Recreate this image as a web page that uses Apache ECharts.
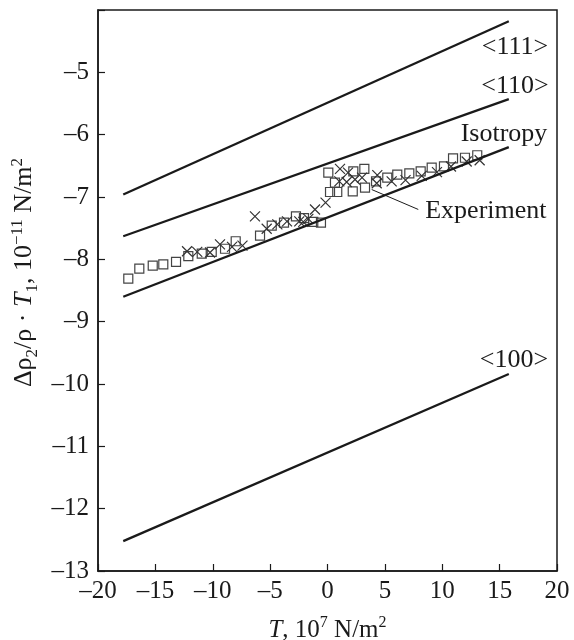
<!DOCTYPE html>
<html>
<head>
<meta charset="utf-8">
<script src="https://cdn.jsdelivr.net/npm/echarts@6/dist/echarts.min.js"></script>
<style>
    html, body { margin: 0; padding: 0; background: #fff; }
    #chart { width: 574px; height: 640px; }
</style>
</head>
<body>
<div id="chart"></div>
<script>
// theory lines (ends only)
const lineX = [-17.8, 15.8];
const line111 = [-6.96, -4.18];
const line110 = [-7.63, -5.43];
const lineIso = [-8.60, -6.20];
const line100 = [-12.52, -9.84];

// experiment, squares
const sqX = [-17.36, -16.40, -15.23, -14.31, -13.20, -12.13, -10.96, -10.09, -8.93, -8.00,
    -5.88, -4.86, -3.79, -2.75, -2.05, -1.24, -0.57, 0.07, 0.65, 0.22,
    0.85, 2.25, 3.21, 2.20, 3.27, 4.23, 5.21, 6.08, 7.13, 8.12,
    9.08, 10.15, 10.94, 11.98, 13.05];
const sqY = [-8.31, -8.15, -8.10, -8.08, -8.04, -7.95, -7.91, -7.88, -7.83, -7.71,
    -7.62, -7.46, -7.41, -7.31, -7.34, -7.40, -7.41, -6.61, -6.77, -6.92,
    -6.92, -6.59, -6.55, -6.91, -6.85, -6.75, -6.69, -6.64, -6.62, -6.59,
    -6.53, -6.51, -6.38, -6.37, -6.33];

// experiment, crosses
const crX = [-12.24, -11.35, -10.24, -9.37, -8.32, -7.41, -6.32, -5.30, -4.37, -3.53,
    -2.46, -2.11, -1.67, -1.09, -0.17, 1.09, 1.79, 1.03, 1.67, 2.40,
    3.01, 4.34, 4.29, 5.59, 6.80, 8.21, 9.54, 10.76, 12.13, 13.26];
const crY = [-7.87, -7.88, -7.89, -7.76, -7.80, -7.78, -7.31, -7.51, -7.44, -7.39,
    -7.39, -7.40, -7.35, -7.20, -7.09, -6.55, -6.61, -6.75, -6.76, -6.72,
    -6.69, -6.65, -6.78, -6.75, -6.73, -6.66, -6.60, -6.51, -6.43, -6.41];

const xTicks = [-20, -15, -10, -5, 0, 5, 10, 15, 20];
const yTicks = [-13, -12, -11, -10, -9, -8, -7, -6, -5];

const font = '"Liberation Serif", "DejaVu Serif", serif';
const ink = '#1a1a1a';

function pairs(xs, ys) {
    return xs.map((x, i) => [x, ys[i]]);
}
function minus(v) {
    return String(v).replace('-', '\u2013');
}

const chart = echarts.init(document.getElementById('chart'));

function theory(ys) {
    return {
        type: 'line',
        data: pairs(lineX, ys),
        symbol: 'none',
        lineStyle: { color: ink, width: 2.3 },
        silent: true
    };
}

const option = {
    animation: false,
    grid: {
        left: 98, right: 17, top: 10, bottom: 69,
        outerBoundsMode: 'none',
        containLabel: false,
        show: true,
        borderColor: ink,
        borderWidth: 1.5
    },
    xAxis: {
        type: 'value',
        min: -20, max: 20, interval: 5,
        axisLine: { onZero: false, lineStyle: { color: ink, width: 1.5 } },
        axisTick: { inside: true, length: 7, lineStyle: { color: ink, width: 1.2 } },
        splitLine: { show: false },
        axisLabel: {
            color: ink, fontFamily: font, fontSize: 25, margin: 8,
            formatter: v => xTicks.includes(v) ? minus(v) : ''
        },
        name: '{i|T}{a|, 10}{p|7}{a| N/m}{p|2}',
        nameLocation: 'middle',
        nameGap: 44,
        nameTextStyle: {
            rich: {
                a: { fontFamily: font, fontSize: 25, color: ink, lineHeight: 30 },
                i: { fontFamily: font, fontSize: 25, color: ink, fontStyle: 'italic', lineHeight: 30 },
                p: { fontFamily: font, fontSize: 16, color: ink, verticalAlign: 'top', lineHeight: 30 }
            }
        }
    },
    yAxis: {
        type: 'value',
        min: -13, max: -4, interval: 1,
        axisLine: { onZero: false, lineStyle: { color: ink, width: 1.5 } },
        axisTick: { inside: true, length: 7, lineStyle: { color: ink, width: 1.2 } },
        splitLine: { show: false },
        axisLabel: {
            color: ink, fontFamily: font, fontSize: 25, margin: 9,
            formatter: v => yTicks.includes(v) ? minus(v) : ''
        },
        name: '{a|\u0394\u03c1}{s|2}{a|/\u03c1 \u00b7 }{i|T}{s|1}{a|, 10}{p|\u221211}{a| N/m}{p|2}',
        nameLocation: 'middle',
        nameGap: 55,
        nameRotate: 90,
        nameTextStyle: {
            padding: [0, 0, 0, 36],
            rich: {
                a: { fontFamily: font, fontSize: 26, color: ink, lineHeight: 32 },
                i: { fontFamily: font, fontSize: 26, color: ink, fontStyle: 'italic', lineHeight: 32 },
                s: { fontFamily: font, fontSize: 17, color: ink, verticalAlign: 'bottom', lineHeight: 32 },
                p: { fontFamily: font, fontSize: 17, color: ink, verticalAlign: 'top', lineHeight: 32 }
            }
        }
    },
    series: [
        theory(line111),
        theory(line110),
        theory(lineIso),
        theory(line100),
        {
            type: 'scatter',
            data: pairs(sqX, sqY),
            symbol: 'rect',
            symbolSize: 9,
            itemStyle: { opacity: 1, color: 'rgba(0,0,0,0)', borderColor: '#444', borderWidth: 1.2 }
        },
        {
            type: 'scatter',
            data: pairs(crX, crY),
            symbol: 'path://M0,0L10,10M10,0L0,10',
            symbolSize: 10,
            itemStyle: { opacity: 1, color: 'rgba(0,0,0,0)', borderColor: '#333', borderWidth: 1.2 }
        },
        {
            // leader line to "Experiment"
            type: 'line',
            data: [[3.85, -6.88], [7.91, -7.20]],
            symbol: 'none',
            lineStyle: { color: ink, width: 1 },
            silent: true
        },
        {
            type: 'scatter',
            symbolSize: 0,
            silent: true,
            itemStyle: { opacity: 1 },
            label: {
                show: true,
                position: 'inside',
                formatter: p => p.name,
                fontFamily: font,
                fontSize: 26,
                color: ink
            },
            data: [
                { name: '<111>', value: [16.34, -4.60] },
                { name: '<110>', value: [16.34, -5.22] },
                { name: 'Isotropy', value: [15.38, -6.00] },
                { name: 'Experiment', value: [13.8, -7.23] },
                { name: '<100>', value: [16.25, -9.61] }
            ]
        }
    ]
};

chart.setOption(option);
</script>
</body>
</html>
